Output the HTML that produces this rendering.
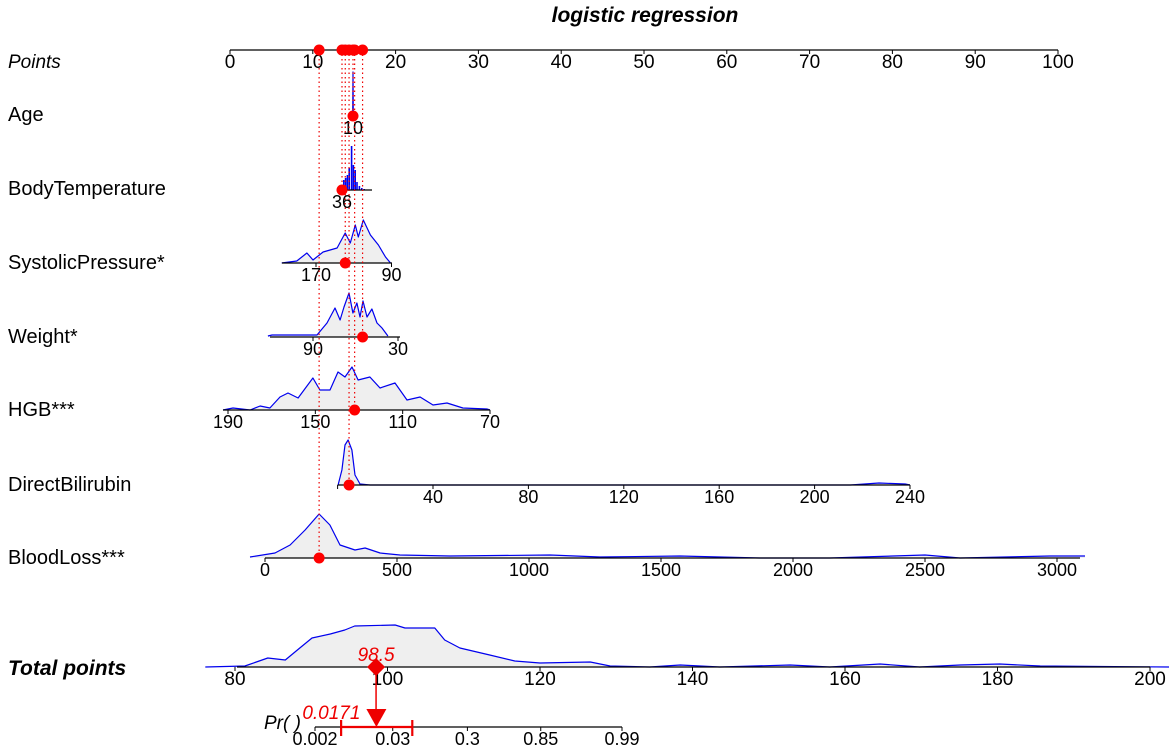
<!DOCTYPE html>
<html><head><meta charset="utf-8"><style>
html,body{margin:0;padding:0;background:#fff;}
svg{display:block;font-family:"Liberation Sans",Arial,sans-serif;}
</style></head><body>
<svg id="chart" width="1169" height="750" viewBox="0 0 1169 750" xmlns="http://www.w3.org/2000/svg">
<text x="645" y="22" font-size="21" font-weight="bold" font-style="italic" text-anchor="middle">logistic regression</text>
<g id="labels" font-size="20">
<text x="8" y="68" font-style="italic" font-size="19">Points</text>
<text x="8" y="121">Age</text>
<text x="8" y="195">BodyTemperature</text>
<text x="8" y="269">SystolicPressure*</text>
<text x="8" y="343">Weight*</text>
<text x="8" y="416">HGB***</text>
<text x="8" y="491">DirectBilirubin</text>
<text x="8" y="564">BloodLoss***</text>
<text x="8" y="675" font-size="21" font-weight="bold" font-style="italic">Total points</text>
</g>
<g id="dens"></g><g id="axes"></g><g id="guides"></g><g id="dots"></g><g id="pred"></g>
</svg>
<script>
const NS="http://www.w3.org/2000/svg";
// ---- data ----
const pointsTicks=[0,10,20,30,40,50,60,70,80,90,100];
const ageTicks=[10];
const btTicks=[36];
const spTicks=[170,90];
const weightTicks=[90,30];
const hgbTicks=[190,150,110,70];
const dbTicks=[0,40,80,120,160,200,240];
const dbTickLabels=["","40","80","120","160","200","240"];
const blTicks=[0,500,1000,1500,2000,2500,3000];
const totalTicks=[80,100,120,140,160,180,200];
const prTicks=[0.002,0.03,0.3,0.85,0.99];
const prTickLabels=["0.002","0.03","0.3","0.85","0.99"];
// patient values
const patientAge=10, patientBT=36, patientSP=139, patientWeight=55, patientHGB=132, patientDB=4.8, patientBL=205;
const patientTotal=98.5, patientPr=0.0171, prLow=0.005, prHigh=0.058;
// densities (value, height)
const ageDensX=[9.9,10,10.1];
const ageDensY=[0,44,0];
const btBarsX=[36.3,36.6,36.9,37.2,37.6,37.9,38.2,38.5,38.9,39.3,39.7];
const btBarsY=[10,12,15,22,44,25,20,8,4,2,1];
const spDensX=[206.3,190.3,179.6,173.2,162.5,147.6,139.1,133.7,128.4,125.2,119.9,112.4,103.9,96.4,91.1];
const spDensY=[0,2,10,3,11,15,30,20,38,26,43,28,18,6,0];
const wDensX=[121.8,118.9,94.2,87.2,80.1,74.5,70.9,68.1,64.6,61.8,59,56.8,54.7,51.9,48.4,44.8,41.3,37.1];
const wDensY=[1,2,2,2,14,29,17,30,44,24,34,20,36,20,28,14,9,1];
const hgbDensX=[192.3,187.7,179.9,175.3,170.8,166.2,162.5,157.9,151.1,147.9,143.3,139.6,136.4,133.2,130.4,125,120.4,113.5,108,102,96.1,89.7,82.4,71.4,70];
const hgbDensY=[0,2,0,4,2,13,17,12,32,20,20,38,33,43,30,33,22,27,10,13,5,7,2,1,0];
const dbDensX=[0.2,1.8,3.1,4.4,6,7.3,9.4,13.6,110,215,227,238,240];
const dbDensY=[0,15,40,45,35,10,1,0,0,0,2,1,0];
const blDensX=[-57,38,95,152,205,246,284,341,379,436,511,701,1080,1269,1572,1875,2140,2500,2633,2973,3106];
const blDensY=[1,5,13,28,44,33,13,8,10,5,3,2,3,1,2,0,0,3,0,2,2];
const totDensX=[76.1,81.3,84.3,86.6,88.5,90.1,92.5,94.4,95.7,101,102.3,106.2,107.5,109.5,113.4,116.7,120,126.6,129.2,134.4,138.4,143.6,152.8,158,164.6,169.8,175.1,180.3,185.6,202.5];
const totDensY=[0,1,9,7,19,29,33,37,41,42,39,39,27,19,12,6,4,5,1,0,2,0,2,0,3,0,2,3,1,0];
// ---- scales ----
function lin(d0,d1,r0,r1){return v=>r0+(v-d0)*(r1-r0)/(d1-d0);}
const xPts=lin(0,100,230,1058);
const xAge=lin(10,11,353,356);
const xBT=lin(36,41,342,372);
const xSP=lin(170,90,316,391.5);
const xW=lin(90,30,313,398);
const xHGB=lin(190,70,228,490);
const xDB=lin(0,240,337.6,910);
const xBL=lin(0,3000,265,1057);
const xTot=lin(80,200,235,1150);
const logit=p=>Math.log(p/(1-p));
const xPr=p=>lin(logit(0.002),logit(0.99),315,622)(logit(p));
function el(tag,attrs,parent){const e=document.createElementNS(NS,tag);for(const k in attrs)e.setAttribute(k,attrs[k]);parent.appendChild(e);return e;}
const gA=document.getElementById('axes'),gD=document.getElementById('dens'),gG=document.getElementById('guides'),gDot=document.getElementById('dots'),gP=document.getElementById('pred');
function axis(name,y,x0,x1,ticks,labels,sx,fs){
  const g=el('g',{},gA);
  
  
  el('line',{x1:x0,x2:x1,y1:y,y2:y,stroke:'#000','stroke-width':1.3},g);
  ticks.forEach((t,i)=>{const x=sx(t);
    el('line',{x1:x,x2:x,y1:y,y2:y+4,stroke:'#000','stroke-width':1},g);
    const tx=el('text',{x:x,y:y+18,'font-size':fs||18,'text-anchor':'middle'},g);
    
    
    tx.textContent=labels?labels[i]:String(t);});
}
function density(name,y,xs,ys,sx,scale){
  let d='';xs.forEach((v,i)=>{d+=(i?'L':'M')+sx(v).toFixed(1)+','+(y-ys[i]*(scale||1)).toFixed(1);});
  const x0=sx(xs[0]),x1=sx(xs[xs.length-1]);
  const f=el('path',{d:d+'L'+x1+','+y+'L'+x0+','+y+'Z',fill:'#efefef',stroke:'none'},gD);
  
  
  const l=el('path',{d:d,fill:'none',stroke:'#0000ee','stroke-width':1.2,'stroke-linejoin':'round'},gD);
  
  
}
// densities
density('age',116,ageDensX,ageDensY,xAge);
btBarsX.forEach((v,i)=>{const x=xBT(v);const b=el('line',{x1:x,x2:x,y1:190,y2:190-btBarsY[i],stroke:'#0000ee','stroke-width':1.6},gD);
  
  });
density('systolicpressure',263,spDensX,spDensY,xSP);
density('weight',337,wDensX,wDensY,xW);
density('hgb',410,hgbDensX,hgbDensY,xHGB);
density('directbilirubin',485,dbDensX,dbDensY,xDB);
density('bloodloss',558,blDensX,blDensY,xBL);
density('total-points',667,totDensX,totDensY,xTot);
// axes
axis('points',50,xPts(0),xPts(100),pointsTicks,null,xPts,19);
axis('age',116,350,356,ageTicks,null,xAge);
axis('bodytemperature',190,342,372,btTicks,null,xBT);
axis('systolicpressure',263,282,392,spTicks,null,xSP);
axis('weight',337,270,400,weightTicks,null,xW);
axis('hgb',410,223,490,hgbTicks,null,xHGB);
axis('directbilirubin',485,337.6,910,dbTicks,dbTickLabels,xDB);
axis('bloodloss',558,265,1080,blTicks,null,xBL);
axis('total-points',667,237,1150,totalTicks,null,xTot,19);
axis('probability',727,315,622,prTicks,prTickLabels,xPr);
// patient markers
const rows=[['age',116,xAge(patientAge)],['bodytemperature',190,xBT(patientBT)],['systolicpressure',263,xSP(patientSP)],['weight',337,xW(patientWeight)],['hgb',410,xHGB(patientHGB)],['directbilirubin',485,xDB(patientDB)],['bloodloss',558,xBL(patientBL)]];
rows.forEach(r=>{
  const ln=el('line',{x1:r[2],x2:r[2],y1:50,y2:r[1],stroke:'#e00','stroke-width':1.2,'stroke-dasharray':'1.5,3'},gG);
  
  
  const c=el('circle',{cx:r[2],cy:r[1],r:5.5,fill:'#f00'},gDot);
  
  
  const c2=el('circle',{cx:r[2],cy:50,r:5.5,fill:'#f00'},gDot);
  
  
});
// prediction
const tx=xTot(patientTotal), px=xPr(patientPr);
const vl=el('line',{x1:tx,x2:tx,y1:667,y2:712,stroke:'#e00','stroke-width':1.5},gP);


const dm=el('path',{d:`M${tx},658 L${tx+9},667 L${tx},676 L${tx-9},667Z`,fill:'#e00'},gP);


const tri=el('path',{d:`M${px-10},709 L${px+10},709 L${px},727Z`,fill:'#e00'},gP);


const lo=xPr(prLow),hi=xPr(prHigh);
const ci=el('path',{d:`M${lo},727 L${hi},727 M${lo},720 L${lo},736 M${hi},720 L${hi},736`,stroke:'#e00','stroke-width':2.2,fill:'none'},gP);


const tl=el('text',{x:tx,y:661,fill:'#e00','font-size':19,'font-style':'italic','text-anchor':'middle'},gP);


tl.textContent=String(patientTotal);
const pl=el('text',{x:px-45,y:719,fill:'#e00','font-size':19,'font-style':'italic','text-anchor':'middle'},gP);


pl.textContent=String(patientPr);
const pr=el('text',{x:264,y:729,'font-size':19,'font-style':'italic'},gP);


pr.textContent='Pr(   )';
</script>
</body></html>
